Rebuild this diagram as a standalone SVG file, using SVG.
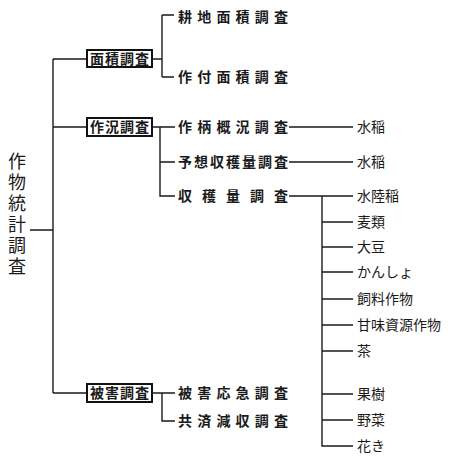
<svg xmlns="http://www.w3.org/2000/svg" width="450" height="463" viewBox="0 0 450 463">
<style>
.ln{stroke:#1a1a1a;stroke-width:1.4;fill:none}
.bx{stroke:#111;stroke-width:2;fill:#fff}
.t{font-family:"Noto Sans CJK JP","Noto Sans CJK SC",sans-serif;font-size:14px;fill:#1a1a1a}
.b{font-weight:bold}
.root{font-family:"Noto Sans CJK JP",sans-serif;font-size:18px;fill:#1a1a1a}
</style>
<rect width="450" height="463" fill="#fff"/>
<g id="connectors">
<path class="ln" d="M30 230H53M53 59V393M53 59H87M53 127H87M53 393H87"/>
<path class="ln" d="M152 59H162M162 15V77M162 15H174M162 77H174"/>
<path class="ln" d="M152 127H175M160 127V196H175M160 162H175"/>
<path class="ln" d="M152 393H175M162 393V421H175"/>
<path class="ln" d="M289 127H353M289 162H353M289 196H353"/>
<path class="ln" d="M322 196V446H353M322 222H353M322 247H353M322 272H353M322 299H353M322 325H353M322 351H353M322 394H353M322 420H353"/>
</g>
<g id="root"><text class="root" x="17" text-anchor="middle"><tspan x="17" y="168">作</tspan><tspan x="17" y="189">物</tspan><tspan x="17" y="210">統</tspan><tspan x="17" y="231">計</tspan><tspan x="17" y="252">調</tspan><tspan x="17" y="273">査</tspan></text></g>
<g id="n-menseki"><rect class="bx" x="87" y="50" width="65" height="17"/><text class="t b" x="90" y="64" font-size="13" textLength="59" lengthAdjust="spacing">面積調査</text></g>
<g id="n-sakkyo"><rect class="bx" x="87" y="118" width="65" height="18"/><text class="t b" x="90" y="132" font-size="13" textLength="59" lengthAdjust="spacing">作況調査</text></g>
<g id="n-higai"><rect class="bx" x="87" y="384" width="65" height="18"/><text class="t b" x="90" y="398" font-size="13" textLength="59" lengthAdjust="spacing">被害調査</text></g>
<g id="n-kouchi"><text class="t b" x="178" y="22" textLength="110" lengthAdjust="spacing">耕地面積調査</text></g>
<g id="n-sakutsuke"><text class="t b" x="178" y="82" textLength="110" lengthAdjust="spacing">作付面積調査</text></g>
<g id="n-sakugara"><text class="t b" x="178" y="132" textLength="110" lengthAdjust="spacing">作柄概況調査</text></g>
<g id="n-yosou"><text class="t b" x="178" y="167" textLength="110" lengthAdjust="spacing">予想収穫量調査</text></g>
<g id="n-shukaku"><text class="t b" x="178" y="201" textLength="110" lengthAdjust="spacing">収穫量調査</text></g>
<g id="n-oukyu"><text class="t b" x="178" y="398" textLength="110" lengthAdjust="spacing">被害応急調査</text></g>
<g id="n-kyousai"><text class="t b" x="178" y="426" textLength="110" lengthAdjust="spacing">共済減収調査</text></g>
<g id="n-suitou1"><text class="t" x="357" y="132">水稲</text></g>
<g id="n-suitou2"><text class="t" x="357" y="167">水稲</text></g>
<g id="n-suirikutou"><text class="t" x="357" y="201">水陸稲</text></g>
<g id="n-mugi"><text class="t" x="357" y="227">麦類</text></g>
<g id="n-daizu"><text class="t" x="357" y="252">大豆</text></g>
<g id="n-kansho"><text class="t" x="357" y="277">かんしょ</text></g>
<g id="n-shiryou"><text class="t" x="357" y="304">飼料作物</text></g>
<g id="n-kanmi"><text class="t" x="357" y="330">甘味資源作物</text></g>
<g id="n-cha"><text class="t" x="357" y="356">茶</text></g>
<g id="n-kaju"><text class="t" x="357" y="399">果樹</text></g>
<g id="n-yasai"><text class="t" x="357" y="425">野菜</text></g>
<g id="n-kaki"><text class="t" x="357" y="451">花き</text></g>
</svg>
